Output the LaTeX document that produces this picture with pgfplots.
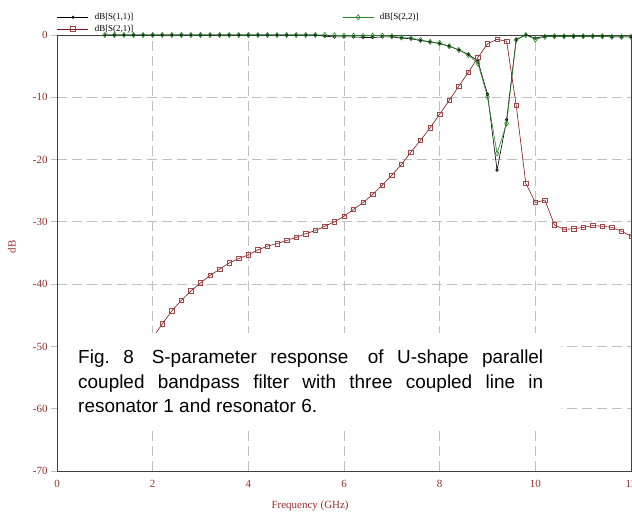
\documentclass[border=0pt]{standalone}
\usepackage{fontspec}
\setmainfont{Liberation Serif}
\newfontfamily\arialfont{Liberation Sans}
\usepackage{pgfplots}
\pgfplotsset{compat=1.18}
\definecolor{tickred}{RGB}{150,45,45}
\definecolor{sred}{RGB}{125,20,25}
\definecolor{sredmark}{RGB}{160,70,70}
\definecolor{sgreen}{RGB}{40,135,40}
\definecolor{gridgray}{RGB}{192,192,192}
\begin{document}
\begin{tikzpicture}
\begin{axis}[
  name=ax,
  scale only axis, width=574bp, height=436bp,
  xmin=0, xmax=12, ymin=-70, ymax=0,
  xtick={0,2,...,12}, ytick={-70,-60,...,0},
  grid=major,
  major grid style={gridgray, dash pattern=on 10bp off 5bp, line width=0.9bp},
  axis line style={black!75, line width=0.9bp},
  tick align=outside,
  major tick length=6bp,
  xtick style={draw=none},
  ytick style={gridgray, line width=0.9bp},
  /pgf/number format/assume math mode=true,
  ticklabel style={font=\fontsize{11}{11}\selectfont, text=tickred},
  xlabel={Frequency (GHz)}, ylabel={dB},
  label style={font=\fontsize{11}{11}\selectfont, text=tickred},
  xlabel style={at={(axis description cs:0.441,-0.0796)}, anchor=center},
  ylabel style={at={(axis description cs:-0.0784,0.514)}, anchor=center},
  legend columns=2,
  legend cell align=left,
  legend style={at={(axis description cs:0,1)}, anchor=south west, draw=none, fill=none,
    font=\fontsize{9}{9}\selectfont, inner sep=0pt, row sep=0bp,
    /tikz/column 1/.style={column sep=4bp},
    /tikz/column 2/.style={column sep=207bp},
    /tikz/column 3/.style={column sep=4bp}},
  legend image code/.code={\draw[mark repeat=2,mark phase=2] plot coordinates {(0bp,0bp)(15.5bp,0bp)(31bp,0bp)};},
]
% S11
\addplot[color=black, line width=0.6bp, mark=o, mark size=1.3bp, mark options={solid}] table {
x y
1.0 0
1.2 0
1.4 0
1.6 0
1.8 0
2.0 0
2.2 0
2.4 0
2.6 0
2.8 0
3.0 0
3.2 0
3.4 0
3.6 0
3.8 0
4.0 0
4.2 0
4.4 0
4.6 0
4.8 0
5.0 0
5.2 0
5.4 0
5.6 -0.2
5.8 -0.3
6.0 -0.3
6.2 -0.3
6.4 -0.4
6.6 -0.4
6.8 -0.3
7.0 -0.3
7.2 -0.5
7.4 -0.6
7.6 -0.9
7.8 -1.1
8.0 -1.4
8.2 -1.8
8.4 -2.4
8.6 -3.1
8.8 -4.2
9.0 -9.5
9.2 -21.7
9.4 -13.6
9.6 -0.7
9.8 0
10.0 -0.5
10.2 -0.2
10.4 -0.2
10.6 -0.2
10.8 -0.2
11.0 -0.2
11.2 -0.2
11.4 -0.2
11.6 -0.3
11.8 -0.3
12.0 -0.3
};
\addlegendentry{dB[S(1,1)]}
% S22
\addplot[color=sgreen, line width=0.6bp, mark=diamond, mark size=2.6bp, mark options={solid}] table {
x y
1.0 0
1.2 0
1.4 0
1.6 0
1.8 0
2.0 0
2.2 0
2.4 0
2.6 0
2.8 0
3.0 0
3.2 0
3.4 0
3.6 0
3.8 0
4.0 0
4.2 0
4.4 0
4.6 0
4.8 0
5.0 0
5.2 0
5.4 0
5.6 0
5.8 -0.05
6.0 -0.1
6.2 -0.1
6.4 -0.15
6.6 -0.1
6.8 -0.1
7.0 -0.2
7.2 -0.4
7.4 -0.5
7.6 -0.8
7.8 -1.1
8.0 -1.3
8.2 -1.8
8.4 -2.4
8.6 -3.2
8.8 -4.6
9.0 -9.9
9.2 -19.0
9.4 -14.2
9.6 -0.8
9.8 0
10.0 -0.7
10.2 -0.3
10.4 -0.2
10.6 -0.2
10.8 -0.2
11.0 -0.2
11.2 -0.2
11.4 -0.2
11.6 -0.3
11.8 -0.3
12.0 -0.3
};
\addlegendentry{dB[S(2,2)]}
% S21 segment that runs under the caption box (no marker)
\addplot[color=sred, line width=0.6bp, forget plot] table {
x y
2.0 -48.6
2.2 -46.4
};
% S21
\addplot[color=sred, line width=0.6bp, mark=square, mark size=2.2bp, mark options={solid, draw=sredmark}] table {
x y
2.2 -46.4
2.4 -44.3
2.6 -42.6
2.8 -41.1
3.0 -39.8
3.2 -38.6
3.4 -37.6
3.6 -36.6
3.8 -35.9
4.0 -35.3
4.2 -34.5
4.4 -33.9
4.6 -33.5
4.8 -33.0
5.0 -32.5
5.2 -31.9
5.4 -31.4
5.6 -30.7
5.8 -30.0
6.0 -29.1
6.2 -28.0
6.4 -26.9
6.6 -25.6
6.8 -24.1
7.0 -22.5
7.2 -20.8
7.4 -18.8
7.6 -16.9
7.8 -14.9
8.0 -12.7
8.2 -10.5
8.4 -8.2
8.6 -6.0
8.8 -3.6
9.0 -1.4
9.2 -0.7
9.4 -1.0
9.6 -11.3
9.8 -23.8
10.0 -26.9
10.2 -26.5
10.4 -30.5
10.6 -31.2
10.8 -31.1
11.0 -30.9
11.2 -30.6
11.4 -30.7
11.6 -30.9
11.8 -31.5
12.0 -32.3
};
\addlegendentry{dB[S(2,1)]}
\fill[white] (axis cs:0.02,-47.8) rectangle (axis cs:10.53,-63.1);
\node[anchor=north west, inner sep=0pt, text width=465bp, align=justify,
  font=\arialfont\fontsize{19}{24.5}\selectfont] at (axis cs:0.44,-50.56)
  {\tolerance=10000 Fig.~8\hspace{18bp}S-parameter response\hspace{6bp} of U-shape parallel\linebreak
   coupled bandpass filter with three coupled line in\linebreak
   resonator 1 and resonator 6.};
\end{axis}
\pgfresetboundingbox
\path[use as bounding box] ([xshift=-57bp,yshift=-42bp]ax.south west) rectangle ([xshift=1bp,yshift=35bp]ax.north east);
\end{tikzpicture}
\end{document}
